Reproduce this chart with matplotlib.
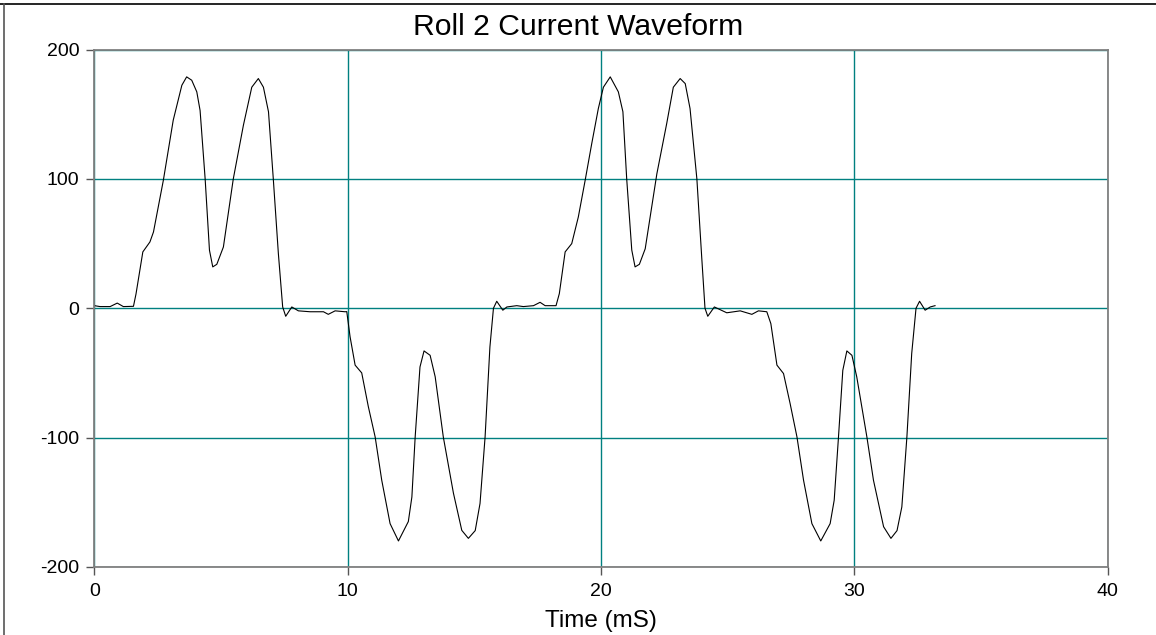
import matplotlib
matplotlib.use("Agg")
import matplotlib.pyplot as plt
from matplotlib.lines import Line2D

plt.rcParams['font.family'] = ['Liberation Sans', 'DejaVu Sans']
plt.rcParams['axes.unicode_minus'] = False

# Valores: tiempo (mS) y corriente
time_ms = [0.00, 0.22, 0.62, 0.90, 1.14, 1.54, 1.64, 1.91, 2.19, 2.33, 2.72, 3.11, 3.45, 3.64,
           3.84, 4.04, 4.17, 4.37, 4.54, 4.67, 4.83, 5.09, 5.48, 5.88, 6.21, 6.47, 6.67, 6.87,
           7.06, 7.26, 7.43, 7.55, 7.79, 8.05, 8.51, 9.04, 9.23, 9.50, 9.89, 9.96,
           10.09, 10.29, 10.55, 10.81, 11.08, 11.34, 11.67, 12.00, 12.39, 12.53, 12.66, 12.85,
           13.01, 13.25, 13.45, 13.77, 14.17, 14.50, 14.76, 15.03, 15.22, 15.42, 15.61, 15.75,
           15.88, 16.12, 16.28, 16.67, 16.93, 17.33, 17.59, 17.79, 18.22, 18.35, 18.58, 18.84,
           19.10, 19.37, 19.63, 19.89, 20.09, 20.36, 20.68, 20.86, 21.01, 21.21, 21.34, 21.51,
           21.74, 22.20, 22.59, 22.85, 23.12, 23.32, 23.51, 23.78, 23.97, 24.10, 24.21, 24.47,
           24.96, 25.49, 25.95, 26.21, 26.54, 26.70, 26.94, 27.20, 27.46, 27.73, 27.99, 28.32,
           28.67, 29.04, 29.20, 29.37, 29.54, 29.70, 29.90, 30.09, 30.49, 30.75, 31.15, 31.44,
           31.68, 31.87, 32.07, 32.26, 32.43, 32.57, 32.79, 32.99, 33.18]
current = [2.0, 1.3, 1.3, 4.0, 1.3, 1.5, 11.0, 43.6, 51.3, 59.0, 99.0, 145.5, 172.5, 179.0,
           176.4, 167.4, 153.0, 100.0, 44.9, 32.0, 34.0, 47.4, 100.0, 141.6, 171.0, 177.7, 171.0, 152.0,
           100.0, 42.3, 1.0, -6.2, 1.0, -2.0, -2.7, -2.7, -4.7, -2.0, -2.7, -2.6,
           -22.0, -44.0, -50.0, -76.0, -99.5, -133.0, -166.6, -180.0, -165.0, -146.0, -99.5, -45.4,
           -33.0, -36.4, -53.0, -99.5, -143.0, -171.8, -178.0, -172.0, -151.0, -99.5, -30.0, 0.0,
           5.4, -1.5, 1.0, 2.0, 1.3, 2.0, 4.6, 2.0, 2.0, 11.3, 43.6, 50.0,
           70.6, 99.0, 127.4, 154.5, 171.0, 179.0, 167.4, 152.0, 100.0, 45.0, 32.0, 34.0,
           46.0, 104.0, 143.0, 171.0, 177.7, 173.8, 154.5, 100.0, 39.7, 0.0, -6.2, 1.0,
           -3.5, -2.0, -4.7, -2.0, -2.7, -11.9, -44.0, -50.5, -73.7, -99.5, -133.0, -166.6,
           -180.0, -166.6, -148.5, -99.5, -48.0, -33.0, -36.4, -53.0, -99.5, -133.0, -169.0, -178.0,
           -172.0, -153.7, -99.5, -35.0, 0.0, 5.4, -1.5, 1.0, 2.0]

x_ticks = [0, 10, 20, 30, 40]
y_ticks = [-200, -100, 0, 100, 200]

fig = plt.figure(figsize=(11.56, 6.35), dpi=100)
ax = fig.add_axes([0.0817, 0.1074, 0.8766, 0.8143])

ax.plot(time_ms, current, color='black', linewidth=0.8)

ax.set_xlim(0, 40)
ax.set_ylim(-200, 200)
ax.set_xticks(x_ticks)
ax.set_yticks(y_ticks)
ax.grid(True, color='#008080', linewidth=1.0)
ax.set_axisbelow(True)

for s in ax.spines.values():
    s.set_color('#808080')
    s.set_linewidth(1.3)

ax.tick_params(axis='y', direction='out', length=6, width=1, color='#555555',
               labelsize=14, pad=5)
ax.tick_params(axis='x', direction='out', length=6, width=1, color='#555555',
               labelsize=14, pad=6)
ax.set_xlabel('Time (mS)', fontsize=17.5, labelpad=7)

fig.text(0.5, 1 - 35 / 635, 'Roll 2 Current Waveform', fontsize=21.7,
         ha='center', va='baseline')

# Borde exterior (solo arriba e izquierda)
fig.add_artist(Line2D([0, 1], [1 - 4 / 635, 1 - 4 / 635], color='black', linewidth=1.2,
                      transform=fig.transFigure))
fig.add_artist(Line2D([4 / 1156, 4 / 1156], [0, 1 - 4 / 635], color='#555555', linewidth=1.2,
                      transform=fig.transFigure))

plt.savefig('out.png', dpi=100)
plt.close()
